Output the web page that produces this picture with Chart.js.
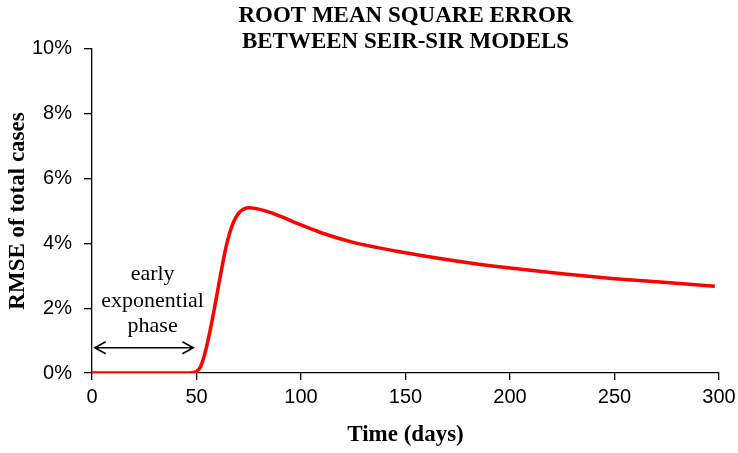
<!DOCTYPE html>
<html>
<head>
<meta charset="utf-8">
<script src="https://cdn.jsdelivr.net/npm/chart.js@4/dist/chart.umd.min.js"></script>
<style>
  html, body { margin: 0; padding: 0; background: #fff; }
  #wrap { width: 738px; height: 453px; }
</style>
</head>
<body>
<div id="wrap"><canvas id="rmseChart"></canvas></div>
<script>
// values (day, RMSE in %)
const days = [0, 10, 20, 30, 40, 45, 48, 50, 52, 54, 56, 58, 60, 62, 64, 66, 68, 70, 72, 75, 78, 82, 86, 90, 100, 110, 125, 150, 175, 200, 225, 250, 275, 298];
const rmse = [0, 0, 0, 0, 0, 0, 0.01, 0.05, 0.2, 0.6, 1.15, 1.8, 2.5, 3.2, 3.85, 4.35, 4.7, 4.92, 5.04, 5.1, 5.08, 5.02, 4.94, 4.84, 4.57, 4.32, 4.03, 3.71, 3.45, 3.24, 3.06, 2.91, 2.79, 2.68];

const yTicks = [0, 2, 4, 6, 8, 10];
const xTicks = [0, 50, 100, 150, 200, 250, 300];

// annotation: label lines and the span of the double arrow
const noteLines = ["early", "exponential", "phase"];
const noteLineY = [3.05, 2.2, 1.45];
const noteX = 29;
const arrowFrom = 1.3;
const arrowTo = 48.5;
const arrowY = 0.78;

const serif = "'Liberation Serif', 'Times New Roman', serif";
const sans = "'Liberation Sans', Arial, sans-serif";

const annotationPlugin = {
    id: "phaseNote",
    afterDatasetsDraw(chart) {
        const ctx = chart.ctx;
        const xs = chart.scales.x;
        const ys = chart.scales.y;
        ctx.save();
        ctx.fillStyle = "#000";
        ctx.font = "22px " + serif;
        ctx.textAlign = "center";
        ctx.textBaseline = "middle";
        noteLines.forEach((t, i) => {
            ctx.fillText(t, xs.getPixelForValue(noteX), ys.getPixelForValue(noteLineY[i]));
        });
        const x1 = xs.getPixelForValue(arrowFrom);
        const x2 = xs.getPixelForValue(arrowTo);
        const y = ys.getPixelForValue(arrowY);
        ctx.strokeStyle = "#000";
        ctx.lineWidth = 1.5;
        ctx.beginPath();
        ctx.moveTo(x1, y);
        ctx.lineTo(x2, y);
        ctx.moveTo(x1 + 11, y - 6);
        ctx.lineTo(x1, y);
        ctx.lineTo(x1 + 11, y + 6);
        ctx.moveTo(x2 - 11, y - 6);
        ctx.lineTo(x2, y);
        ctx.lineTo(x2 - 11, y + 6);
        ctx.stroke();
        ctx.restore();
    }
};

const ctx = document.getElementById("rmseChart").getContext("2d");
new Chart(ctx, {
    type: "line",
    data: {
        datasets: [{
            label: "RMSE",
            data: days.map((d, i) => ({ x: d, y: rmse[i] })),
            borderColor: "#ff0000",
            borderWidth: 3.5,
            pointRadius: 0,
            fill: false,
            cubicInterpolationMode: "monotone"
        }]
    },
    options: {
        responsive: true,
        maintainAspectRatio: false,
        animation: false,
        layout: { padding: { left: 0, right: 19, top: 0, bottom: 0 } },
        plugins: {
            legend: { display: false },
            tooltip: { enabled: false },
            title: {
                display: true,
                fullSize: false,
                text: ["ROOT MEAN SQUARE ERROR", "BETWEEN SEIR-SIR MODELS"],
                color: "#000",
                font: { family: serif, size: 23, weight: "bold", lineHeight: 1.13 },
                padding: { top: 3, bottom: -6 }
            }
        },
        scales: {
            x: {
                type: "linear",
                min: 0,
                max: 300,
                afterBuildTicks: s => { s.ticks = xTicks.map(v => ({ value: v })); },
                afterFit: s => { s.height = 80; s.paddingLeft = 0; s.paddingRight = 0; },
                border: { color: "#000", width: 1.3 },
                grid: { drawOnChartArea: false, drawTicks: true, tickLength: 7, color: "#000", lineWidth: 1.3 },
                ticks: { color: "#000", font: { family: sans, size: 20 }, padding: 5, maxRotation: 0 },
                title: {
                    display: true,
                    text: "Time (days)",
                    color: "#000",
                    font: { family: serif, size: 23, weight: "bold" },
                    padding: { top: 8 }
                }
            },
            y: {
                min: 0,
                max: 10,
                afterBuildTicks: s => { s.ticks = yTicks.map(v => ({ value: v })); },
                afterFit: s => { s.width = 92; },
                border: { color: "#000", width: 1.3 },
                grid: { drawOnChartArea: false, drawTicks: true, tickLength: 8, color: "#000", lineWidth: 1.3 },
                ticks: { color: "#000", font: { family: sans, size: 20 }, padding: 12, callback: v => v + "%" },
                title: {
                    display: true,
                    text: "RMSE of total cases",
                    color: "#000",
                    font: { family: serif, size: 23, weight: "bold" },
                    padding: { bottom: 0 }
                }
            }
        }
    },
    plugins: [annotationPlugin]
});
</script>
</body>
</html>
